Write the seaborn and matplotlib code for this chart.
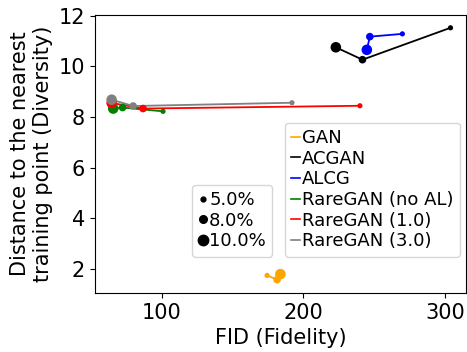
import pandas as pd
import matplotlib.pyplot as plt
import seaborn as sns
from matplotlib.lines import Line2D

methods = ['GAN', 'ACGAN', 'ALCG', 'RareGAN (no AL)', 'RareGAN (1.0)', 'RareGAN (3.0)']
colors = ['orange', 'black', 'blue', 'green', 'red', 'gray']
ratios = [10.0, 8.0, 5.0]

# FID and diversity per method, ordered by ratio 10%, 8%, 5%
fid = {
    'GAN': [183.8, 181.5, 174.4],
    'ACGAN': [223.0, 241.8, 304.0],
    'ALCG': [244.9, 247.0, 270.0],
    'RareGAN (no AL)': [65.7, 72.3, 100.9],
    'RareGAN (1.0)': [64.6, 86.8, 240.0],
    'RareGAN (3.0)': [64.6, 79.8, 192.0],
}
diversity = {
    'GAN': [1.79, 1.57, 1.74],
    'ACGAN': [10.75, 10.26, 11.52],
    'ALCG': [10.65, 11.17, 11.28],
    'RareGAN (no AL)': [8.33, 8.37, 8.22],
    'RareGAN (1.0)': [8.55, 8.33, 8.44],
    'RareGAN (3.0)': [8.68, 8.43, 8.56],
}

rows = []
for m in methods:
    for r, f, d in zip(ratios, fid[m], diversity[m]):
        rows.append({'method': m, 'ratio': r, 'fid': f, 'div': d})
df = pd.DataFrame(rows)

palette = dict(zip(methods, colors))
sizes = {5.0: 14, 8.0: 30, 10.0: 58}

fig, ax = plt.subplots(figsize=(4.67, 3.52), dpi=100)
sns.lineplot(data=df, x='fid', y='div', hue='method', palette=palette, sort=False,
             estimator=None, legend=False, linewidth=1.3, ax=ax)
sns.scatterplot(data=df, x='fid', y='div', hue='method', size='ratio', sizes=sizes,
                palette=palette, linewidth=0, legend=False, ax=ax, zorder=3)

ax.set_xlim(52.7, 315)
ax.set_ylim(1.05, 12.02)
ax.set_xticks([100, 200, 300])
ax.set_yticks([2, 4, 6, 8, 10, 12])
ax.tick_params(labelsize=15)
ax.set_xlabel('FID (Fidelity)', fontsize=15)
ax.set_ylabel('Distance to the nearest\ntraining point (Diversity)', fontsize=15)

hue_handles = [Line2D([], [], color=c, lw=1.2) for c in colors]
leg1 = ax.legend(hue_handles, methods, loc='lower right', bbox_to_anchor=(0.983, 0.13),
                 borderaxespad=0, fontsize=13, handlelength=0.5, handletextpad=0.1,
                 labelspacing=0.15, borderpad=0.35)
ax.add_artist(leg1)

size_handles = [Line2D([], [], color='black', marker='o', lw=0, markersize=ms)
                for ms in [3.5, 5.5, 7.5]]
ax.legend(size_handles, ['5.0%', '8.0%', '10.0%'], loc='lower right',
          bbox_to_anchor=(0.478, 0.13), borderaxespad=0, fontsize=13,
          handlelength=0.5, handletextpad=0.1, labelspacing=0.15, borderpad=0.35)

plt.subplots_adjust(left=0.203, right=0.998, top=0.957, bottom=0.168)
plt.savefig('out.png', dpi=100)
